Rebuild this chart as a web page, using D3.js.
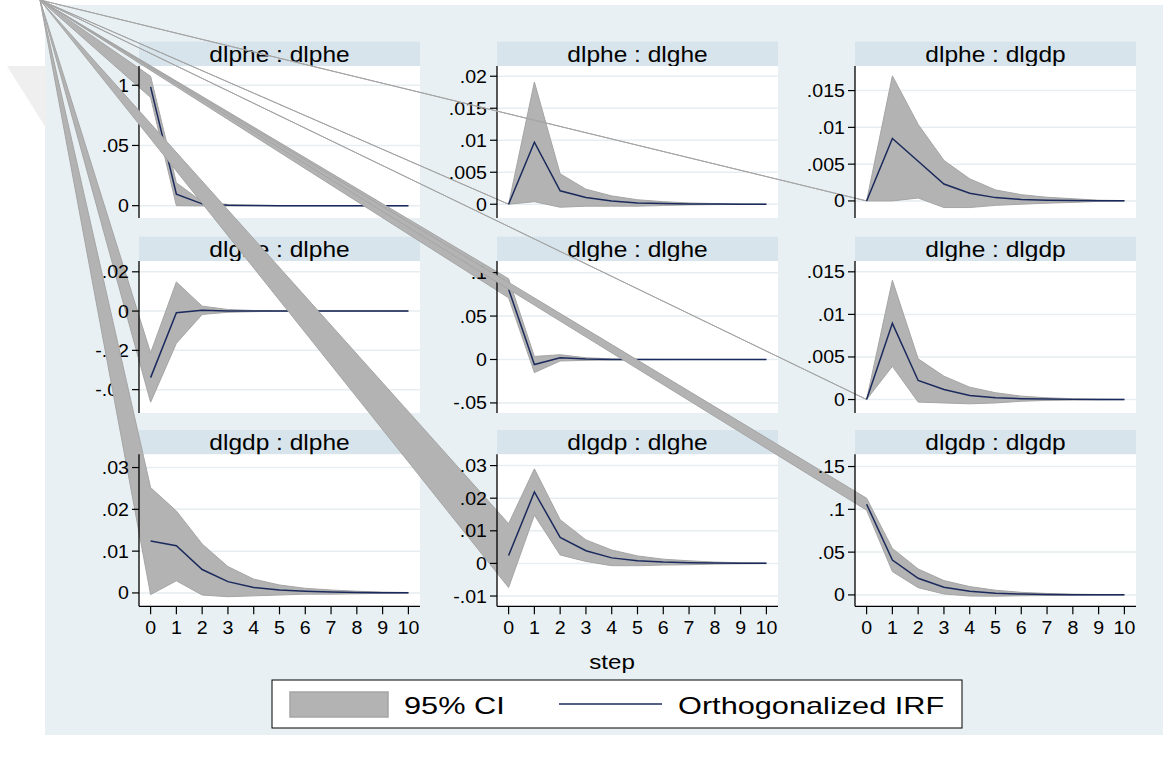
<!DOCTYPE html>
<html>
<head>
<meta charset="utf-8">
<script src="https://cdn.jsdelivr.net/npm/d3@7"></script>
<style>
  body { margin: 0; background: #fff; }
  text { font-family: "Liberation Sans", Arial, sans-serif; fill: #000; }
</style>
</head>
<body>
<svg id="chart" width="1173" height="765"></svg>
<script>
// impulse responses, 95% band, steps 0..10
var steps = [0, 1, 2, 3, 4, 5, 6, 7, 8, 9, 10];
var titles = ["dlphe : dlphe", "dlphe : dlghe", "dlphe : dlgdp",
              "dlghe : dlphe", "dlghe : dlghe", "dlghe : dlgdp",
              "dlgdp : dlphe", "dlgdp : dlghe", "dlgdp : dlgdp"];

var irf11 = [0.0987, 0.0095, 0.0015, 0.0004, 0.0001, 0, 0, 0, 0, 0, 0];
var hi11  = [0.1075, 0.019, 0.0032, 0.001, 0.0003, 0.0001, 0, 0, 0, 0, 0];
var lo11  = [0.0899, 0.0, -0.0002, -0.0002, -0.0001, -0.0001, 0, 0, 0, 0, 0];

var irf12 = [0, 0.0097, 0.0021, 0.00104, 0.0005, 0.0002, 0.0001, 0.00005, 0.00002, 0.00001, 0];
var hi12  = [0, 0.0191, 0.00475, 0.00235, 0.0013, 0.0007, 0.0004, 0.0002, 0.0001, 0.00005, 0.00002];
var lo12  = [0, 0.0004, -0.00047, -0.0003, -0.0003, -0.0003, -0.0002, -0.0001, -0.00006, -0.00003, -0.00002];

var irf13 = [0, 0.0085, 0.0054, 0.0023, 0.00105, 0.00045, 0.0002, 0.0001, 0.00005, 0.00002, 0.00001];
var hi13  = [0, 0.017, 0.0104, 0.0055, 0.003, 0.0015, 0.00085, 0.0005, 0.0003, 0.0001, 0.00005];
var lo13  = [0, 0.0, 0.0004, -0.0009, -0.0009, -0.0006, -0.00045, -0.0003, -0.0002, -0.00006, -0.00003];

var irf21 = [-0.0339, -0.0008, 0.0004, 0.0001, 0, 0, 0, 0, 0, 0, 0];
var hi21  = [-0.0213, 0.0148, 0.0025, 0.0008, 0.0003, 0.0001, 0, 0, 0, 0, 0];
var lo21  = [-0.0464, -0.0164, -0.0017, -0.0006, -0.0003, -0.0001, 0, 0, 0, 0, 0];

var irf22 = [0.081, -0.0058, 0.0019, 0.0005, 0.0001, 0, 0, 0, 0, 0, 0];
var hi22  = [0.093, 0.0035, 0.0055, 0.002, 0.0007, 0.0002, 0.0001, 0, 0, 0, 0];
var lo22  = [0.071, -0.0151, -0.0017, -0.001, -0.0005, -0.0002, -0.0001, 0, 0, 0, 0];

var irf23 = [0, 0.00895, 0.00224, 0.00118, 0.00047, 0.0002, 0.0001, 0.00005, 0.00002, 0.00001, 0];
var hi23  = [0, 0.014, 0.00478, 0.00274, 0.00145, 0.0008, 0.0004, 0.0002, 0.0001, 0.00005, 0.00002];
var lo23  = [0, 0.0039, -0.0003, -0.0004, -0.0005, -0.0004, -0.0002, -0.0001, -0.00006, -0.00003, -0.00002];

var irf31 = [0.0124, 0.0113, 0.0056, 0.0027, 0.0013, 0.0007, 0.0004, 0.0002, 0.0001, 0.00005, 0.00002];
var hi31  = [0.0252, 0.0196, 0.0117, 0.0063, 0.0033, 0.0019, 0.0011, 0.0007, 0.0004, 0.0002, 0.0001];
var lo31  = [-0.0004, 0.0029, -0.0005, -0.0009, -0.0007, -0.0005, -0.0003, -0.0003, -0.0002, -0.0001, -0.00006];

var irf32 = [0.0024, 0.0219, 0.008, 0.0039, 0.0017, 0.0008, 0.0004, 0.0002, 0.0001, 0.00005, 0.00002];
var hi32  = [0.0122, 0.029, 0.0134, 0.0072, 0.0041, 0.0023, 0.0013, 0.0008, 0.0004, 0.0002, 0.0001];
var lo32  = [-0.0074, 0.0148, 0.0026, 0.0006, -0.0007, -0.0007, -0.0005, -0.0004, -0.0002, -0.0001, -0.00006];

var irf33 = [0.106, 0.0408, 0.0194, 0.0089, 0.0042, 0.002, 0.001, 0.0005, 0.0002, 0.0001, 0.00005];
var hi33  = [0.113, 0.0543, 0.0303, 0.0167, 0.0097, 0.0055, 0.003, 0.0017, 0.0009, 0.0005, 0.0002];
var lo33  = [0.099, 0.0273, 0.0085, 0.0011, -0.0013, -0.0015, -0.001, -0.0007, -0.0005, -0.0003, -0.0001];

// y axis range and ticks of each panel
var yRanges = [[-0.01025, 0.116], [-0.00215, 0.0216], [-0.00232, 0.01834],
               [-0.0519, 0.0255], [-0.0616, 0.1134], [-0.00158, 0.01627],
               [-0.0032, 0.03317], [-0.01315, 0.03346], [-0.0133, 0.1643]];
var yTicks = [[0, .05, .1], [0, .005, .01, .015, .02], [0, .005, .01, .015],
              [-.04, -.02, 0, .02], [-.05, 0, .05, .1], [0, .005, .01, .015],
              [0, .01, .02, .03], [-.01, 0, .01, .02, .03], [0, .05, .1, .15]];

var irfs = [irf11, irf12, irf13, irf21, irf22, irf23, irf31, irf32, irf33];
var his = [hi11, hi12, hi13, hi21, hi22, hi23, hi31, hi32, hi33];
var los = [lo11, lo12, lo13, lo21, lo22, lo23, lo31, lo32, lo33];

var svg = d3.select("#chart");
var colX = [139, 497, 855],
    rowY = [41.7, 236.7, 430],
    titleH = 24.3,
    plotW = 281,
    plotH = 152,
    apex = [40, 0];   // the band polygons all start from this corner

var bgColor = "#e8f0f3", barColor = "#d7e4eb", gridColor = "#e6eef1",
    ciColor = "#b3b3b3", ciEdge = "#a5a5a5", lineColor = "#1b2a5c";

function fmt(v) {
  if (v === 0) return "0";
  return String(+v.toPrecision(6)).replace(/^(-?)0\./, "$1.");
}

// picture is stretched sideways, so text gets a horizontal scale
function label(g, x, y, str, size, anchor, sx) {
  return g.append("text")
    .attr("transform", "translate(" + x + "," + y + ") scale(" + (sx || 1.15) + ",1)")
    .attr("text-anchor", anchor || "middle")
    .style("font-size", size + "px")
    .text(str);
}

svg.append("rect").attr("x", 45).attr("y", 5).attr("width", 1118).attr("height", 730)
  .attr("fill", bgColor);
// faint shadow at the left edge
svg.append("path").attr("d", "M7,66L46,66L46,128Z").attr("fill", "#efefef");

var x = d3.scaleLinear().domain([-0.45, 10.45]).range([0, plotW]);

titles.forEach(function(t, i) {
  var r = Math.floor(i / 3), c = i % 3;
  var g = svg.append("g")
    .attr("transform", "translate(" + colX[c] + "," + (rowY[r] + titleH) + ")");
  var y = d3.scaleLinear().domain(yRanges[i]).range([plotH, 0]);

  // subtitle bar
  g.append("rect").attr("x", 0).attr("y", -titleH).attr("width", plotW).attr("height", titleH)
    .attr("fill", barColor);
  label(g, plotW / 2, -4.5, t, 21.5, "middle", 1.14);

  g.append("rect").attr("width", plotW).attr("height", plotH).attr("fill", "#fff");

  g.selectAll(".grid").data(yTicks[i]).enter().append("line")
    .attr("x1", 0).attr("x2", plotW)
    .attr("y1", function(d) { return y(d); }).attr("y2", function(d) { return y(d); })
    .attr("stroke", gridColor).attr("stroke-width", 1.5);

  // band: Stata's polygon begins at the page corner
  var ax = apex[0] - colX[c], ay = apex[1] - (rowY[r] + titleH);
  var pts = [[ax, ay]];
  steps.forEach(function(s, k) { pts.push([x(s), y(his[i][k])]); });
  for (var k = steps.length - 1; k >= 0; k--) pts.push([x(steps[k]), y(los[i][k])]);
  g.append("path")
    .attr("d", d3.line()(pts) + "Z")
    .attr("fill", ciColor).attr("stroke", ciEdge).attr("stroke-width", 1);

  g.append("path")
    .attr("d", d3.line().x(function(d, k) { return x(steps[k]); }).y(function(d) { return y(d); })(irfs[i]))
    .attr("fill", "none").attr("stroke", lineColor).attr("stroke-width", 1.5);

  // y axis
  var ya = g.append("g");
  ya.append("line").attr("x1", 0).attr("x2", 0).attr("y1", 0).attr("y2", plotH)
    .attr("stroke", "#000").attr("stroke-width", 1.3);
  yTicks[i].forEach(function(v) {
    ya.append("line").attr("x1", -7).attr("x2", 0).attr("y1", y(v)).attr("y2", y(v))
      .attr("stroke", "#000").attr("stroke-width", 1.2);
    label(ya, -10, y(v) + 6.5, fmt(v), 17.5, "end", 1.12);
  });

  // x axis only on the bottom row
  if (r === 2) {
    var xa = g.append("g").attr("transform", "translate(0," + plotH + ")");
    xa.append("line").attr("x1", 0).attr("x2", plotW).attr("stroke", "#000").attr("stroke-width", 1.3);
    steps.forEach(function(s) {
      xa.append("line").attr("x1", x(s)).attr("x2", x(s)).attr("y1", 0).attr("y2", 8)
        .attr("stroke", "#000").attr("stroke-width", 1.2);
      label(xa, x(s), 28, String(s), 17.5, "middle", 1.12);
    });
  }
});

label(svg, 612, 669, "step", 21, "middle", 1.15);

// legend
var lg = svg.append("g");
lg.append("rect").attr("x", 272).attr("y", 680).attr("width", 690).attr("height", 48)
  .attr("fill", "#fff").attr("stroke", "#000").attr("stroke-width", 1);
lg.append("rect").attr("x", 290).attr("y", 692).attr("width", 98).attr("height", 25)
  .attr("fill", ciColor).attr("stroke", ciEdge).attr("stroke-width", 1.5);
label(lg, 404, 714, "95% CI", 24, "start", 1.28);
lg.append("line").attr("x1", 559).attr("x2", 662).attr("y1", 704).attr("y2", 704)
  .attr("stroke", lineColor).attr("stroke-width", 1.5);
label(lg, 678, 714, "Orthogonalized IRF", 24, "start", 1.28);
</script>
</body>
</html>
